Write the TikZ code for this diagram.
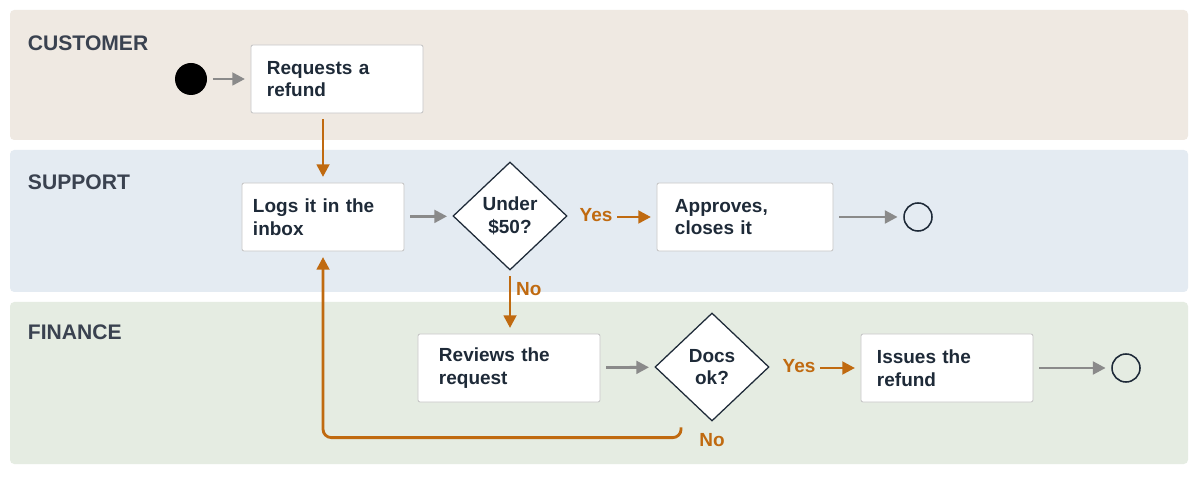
\documentclass[tikz,border=0pt]{standalone}
\usepackage{fontspec}
\setmainfont{Liberation Sans}
\usetikzlibrary{shapes.geometric,arrows.meta}
\definecolor{lcust}{HTML}{EFE9E2}
\definecolor{lsup}{HTML}{E4EBF2}
\definecolor{lfin}{HTML}{E5ECE2}
\definecolor{org}{HTML}{C06A10}
\definecolor{gr}{HTML}{8A8A8A}
\definecolor{txt}{HTML}{1E2A38}
\definecolor{lab}{HTML}{3A4250}
\begin{document}
\begin{tikzpicture}[x=0.025cm,y=-0.025cm,
 lane/.style={draw=none,rounded corners=3pt},
 lname/.style={anchor=west,font=\bfseries\fontsize{15}{17}\selectfont,text=lab},
 box/.style={draw=gray!45,fill=white,rounded corners=1.5pt,minimum width=4.3cm,minimum height=1.7cm,align=left,text width=3.5cm,font=\bfseries\fontsize{13.5}{16}\selectfont,text=txt,line width=0.6pt},
 dia/.style={diamond,draw=txt,fill=white,line width=0.9pt,minimum width=2.85cm,minimum height=2.7cm,inner sep=0pt,align=center,font=\bfseries\fontsize{13.5}{16}\selectfont,text=txt},
 endc/.style={circle,draw=txt,line width=1.1pt,minimum size=0.7cm,inner sep=0pt},
 ga/.style={draw=gr,line width=2pt,-{Triangle[length=9pt,width=9pt]},shorten >=4pt,shorten <=4pt},
 oa/.style={draw=org,line width=2pt,-{Triangle[length=9pt,width=9pt]},shorten >=4pt,shorten <=4pt},
 ol/.style={font=\bfseries\fontsize{13.5}{16}\selectfont,text=org}]
\useasboundingbox (0,0) rectangle (1200,477);
\fill[white] (0,0) rectangle (1200,477);
\fill[lane,lcust] (10,10) rectangle (1188,140);
\fill[lane,lsup] (10,150) rectangle (1188,292);
\fill[lane,lfin] (10,302) rectangle (1188,464);
\node[lname] (l1) at (23,43) {CUSTOMER};
\node[lname] (l2) at (23,182) {SUPPORT};
\node[lname] (l3) at (23,332) {FINANCE};
\node[circle,fill=black,minimum size=0.8cm,inner sep=0pt] (s) at (191,79) {};
\node[box] (req) at (337,79) {Requests a\\refund};
\node[box,minimum width=4.05cm] (logs) at (323,217) {Logs it in the\\inbox};
\node[dia] (d1) at (510,216) {Under\\\$50?};
\node[box,minimum width=4.4cm] (app) at (745,217) {Approves,\\closes it};
\node[endc] (e1) at (918,217) {};
\node[box,minimum width=4.55cm] (rev) at (509,368) {Reviews the\\request};
\node[dia] (d2) at (712,367) {Docs\\ok?};
\node[box] (iss) at (947,368) {Issues the\\refund};
\node[endc] (e2) at (1126,368) {};
\node[ol] (y1) at (596,215) {Yes};
\node[ol] (y2) at (799,366) {Yes};
\draw[ga] (s) -- (req);
\draw[oa] (req.south -| logs) -- (logs.north);
\draw[ga] (logs) -- (d1);
\draw[oa,shorten <=0pt] (y1.east |- app.west) -- (app.west);
\draw[ga] (app) -- (e1);
\draw[oa] (d1.south) -- node[ol,right,pos=0.3]{No} (rev.north -| d1);
\draw[ga] (rev) -- (d2);
\draw[oa,shorten <=0pt] (y2.east |- iss.west) -- (iss.west);
\draw[ga] (iss) -- (e2);
\draw[oa,rounded corners=6pt] ([xshift=-22]d2.south) -- ++(0,16) -| (logs.south);
\node[ol] (no2) at (712,440) {No};
\end{tikzpicture}
\end{document}
